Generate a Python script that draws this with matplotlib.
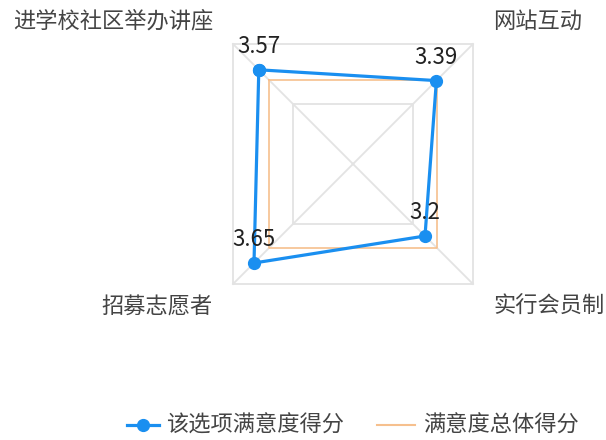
import numpy as np
import matplotlib
matplotlib.use("Agg")
import matplotlib.pyplot as plt

plt.rcParams['font.family'] = ['Noto Sans CJK SC', 'DejaVu Sans']

# dados
categorias = ["进学校社区举办讲座", "网站互动", "实行会员制", "招募志愿者"]
valores = [3.57, 3.39, 3.2, 3.65]
total = [3.4, 3.4, 3.4, 3.4]
valor_min = 2
valor_max = 4
niveis = [3, 4]
serie1 = "该选项满意度得分"
serie2 = "满意度总体得分"

azul = "#1a8ff0"
laranja = "#f6c08e"
cinza = "#e3e3e3"

# direcoes dos vertices (quadrado)
dirs = np.array([[-1, 1], [1, 1], [1, -1], [-1, -1]], dtype=float)

def pontos(vals):
    r = (np.array(vals) - valor_min) / (valor_max - valor_min)
    p = dirs * r[:, None]
    return np.vstack([p, p[:1]])

fig = plt.figure(figsize=(6.06, 4.40), dpi=100)
ax = fig.add_axes([0, 0, 1, 1])
esc = 120.0
cx, cy = 353, 440 - 164
ax.set_xlim(-cx / esc, (606 - cx) / esc)
ax.set_ylim(-cy / esc, (440 - cy) / esc)
ax.axis("off")

# grade
for n in niveis:
    g = pontos([n] * 4)
    ax.plot(g[:, 0], g[:, 1], color=cinza, lw=1.3, zorder=1)
for d in dirs:
    ax.plot([0, d[0]], [0, d[1]], color=cinza, lw=1.3, zorder=1)

# series
t = pontos(total)
ax.plot(t[:, 0], t[:, 1], color=laranja, lw=1.2, zorder=2)
v = pontos(valores)
ax.plot(v[:, 0], v[:, 1], color=azul, lw=2.3, marker="o", markersize=8.5, zorder=3)

for (x, y), val in zip(v[:-1], valores):
    ax.text(x, y + 0.1, f"{val:g}", ha="center", va="bottom", fontsize=16, color="#222222", zorder=4)

# rotulos das categorias
off = 20 / esc
for (dx, dy), nome in zip(dirs, categorias):
    ax.text(dx + dx * off, dy + dy * 0.19, nome,
            ha="right" if dx < 0 else "left", va="center", fontsize=16, color="#444444")

# legenda
ly = (440 - 425 - cy) / esc
def px(x):
    return (x - cx) / esc
ax.plot([px(127), px(159)], [ly, ly], color=azul, lw=2.3)
ax.plot([px(143)], [ly], color=azul, marker="o", markersize=8.5)
ax.text(px(166), ly, serie1, ha="left", va="center", fontsize=16, color="#444444")
ax.plot([px(377), px(415)], [ly, ly], color=laranja, lw=1.5)
ax.text(px(423), ly, serie2, ha="left", va="center", fontsize=16, color="#444444")

plt.savefig("out.png", dpi=100)
